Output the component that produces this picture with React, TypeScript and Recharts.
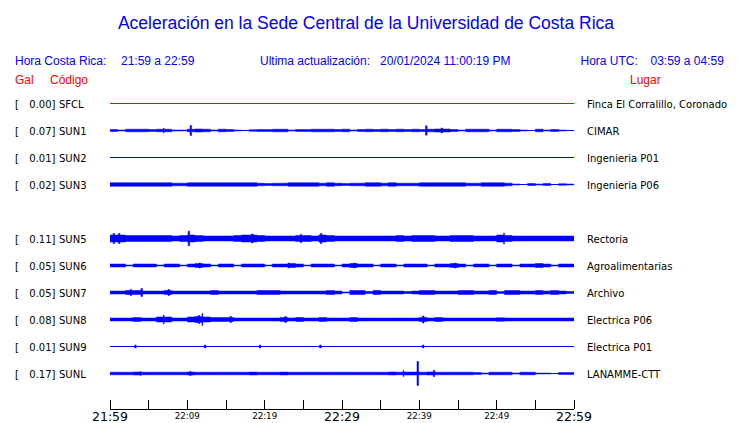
import React from "react";
import { ComposedChart, Area, XAxis, YAxis, ReferenceLine } from "recharts";

const BLUE = "#0000ff";
const RED = "#ff0000";
const SANS = "'Liberation Sans', Arial, sans-serif";
const DEJAVU = "'DejaVu Sans', sans-serif";

// stations, top to bottom (slot 4 is an empty row)
const CODES = ["SFCL", "SUN1", "SUN2", "SUN3", "SUN5", "SUN6", "SUN7", "SUN8", "SUN9", "SUNL"];
const GAL = [0.0, 0.07, 0.01, 0.02, 0.11, 0.05, 0.05, 0.08, 0.01, 0.17];
const PLACES = [
  "Finca El Corralillo, Coronado",
  "CIMAR",
  "Ingenieria P01",
  "Ingenieria P06",
  "Rectoria",
  "Agroalimentarias",
  "Archivo",
  "Electrica P06",
  "Electrica P01",
  "LANAMME-CTT",
];
const SLOTS = [0, 1, 2, 3, 5, 6, 7, 8, 9, 10];
const COLORS = [RED, BLUE, BLUE, BLUE, BLUE, BLUE, BLUE, BLUE, BLUE, BLUE];

// trace half-height per minute (21:59 .. 22:58), display units
const SFCL = [];
const SUN1 = [1, 0.5, 1.3, 1.3, 1.3, 1, 1.3, 1.3, 0.5, 0.5, 1.3, 1.5, 1.3, 0.5, 1.3, 1, 0.5, 0, 0.8, 1, 1, 1.3, 1.3, 0.5, 1, 1, 1.3, 1.3, 1.3, 1, 1.3, 0.5, 1, 1.3, 1, 1.3, 1, 1.3, 1, 1.3, 1, 1.3, 1.5, 1.5, 1, 0.5, 1.3, 1.3, 1.3, 0.5, 1.3, 1.3, 1, 0.5, 0, 1.3, 0.5, 1, 0.5, 0];
const SUN2 = [];
const SUN3 = [1.8, 1.8, 1.8, 1.8, 1.8, 1.8, 1.8, 1.8, 1.3, 1.3, 1.8, 1.8, 1.8, 1.8, 1.8, 1.8, 1.8, 1.8, 1.8, 1.3, 1, 1.3, 1.3, 1.8, 1.8, 1.8, 1.8, 1.3, 1.8, 1.3, 1, 1.3, 1.3, 1.8, 1.8, 1.3, 1.8, 1.3, 1.3, 1.3, 1.8, 1.8, 1.8, 1.8, 1.8, 1.8, 1.3, 1.3, 1.8, 1.8, 1.8, 1.3, 0.5, 0, 1, 0.5, 1, 0, 0.8, 0.5];
const SUN5 = [3.5, 3.5, 3, 3, 3, 3, 3, 3, 2.5, 3, 3.5, 3, 2.5, 2.5, 2.5, 2.5, 3, 3.5, 3.5, 3, 2.5, 2.5, 2.5, 2.5, 3, 3, 2.5, 3.5, 3, 2.5, 2.5, 2.5, 2.5, 2.5, 2.5, 2.5, 2.5, 3, 2.5, 3, 3, 3, 2.5, 2.5, 3, 3, 3, 2.5, 2.5, 2.5, 3.5, 3, 2.5, 2.5, 2.5, 2.5, 2.5, 2.5, 2.5, 2.5];
const SUN6 = [1.5, 1.5, 0.5, 1.5, 1.5, 1.5, 0.5, 1.5, 1.5, 0.5, 1.5, 2, 1.5, 0.5, 1.5, 1.5, 0.5, 1.5, 1.5, 1.5, 0.5, 1.5, 1.5, 2, 1.5, 0.5, 1.5, 1.5, 1.5, 0.5, 1.5, 2, 1.5, 1.5, 0.5, 1.5, 1.5, 0.5, 1.5, 1.5, 1.5, 0.5, 1.5, 1.5, 2, 1.5, 0.5, 1.5, 1.5, 0.5, 1.5, 1.5, 0.5, 1.5, 1.5, 2, 1.5, 0.5, 1.5, 1.5];
const SUN7 = [1.5, 1.5, 2, 2, 1.5, 1.5, 1.5, 2, 1.5, 1.5, 1.5, 1.5, 1.5, 2, 1.5, 1.5, 1.5, 1.5, 1.5, 2, 2, 2, 1.5, 1.5, 1.5, 1.5, 1.5, 1.5, 2, 1.5, 0.5, 2, 2, 1, 2, 1.5, 1.5, 1.5, 1, 1.5, 2, 2, 1.5, 1.5, 1.5, 2, 2, 1.5, 1.5, 2, 1, 2, 2, 1.5, 1.5, 2, 1.5, 2, 1.5, 1];
const SUN8 = [1.5, 1.5, 1.5, 2, 1.5, 1.5, 2.5, 2.5, 1.5, 1.5, 2.5, 3, 2.5, 2, 2, 2, 1.5, 1.5, 1.5, 1.5, 1.5, 1.5, 2, 1.5, 2, 1.5, 1.5, 2, 1.5, 1.5, 1.5, 2, 1.5, 1.5, 1.5, 1.5, 1.5, 1.5, 1.5, 1.5, 2, 1.5, 2, 1.5, 1.5, 1.5, 1.5, 1.5, 1.5, 1.5, 1.8, 1.5, 1.5, 1.5, 1.5, 1.5, 1.5, 1.5, 1.5, 1.5];
const SUN9 = [];
const SUNL = [1.3, 1.3, 1.3, 1.5, 1.3, 1.3, 1.3, 1.3, 1.3, 1.3, 1.5, 1.3, 1.3, 1.3, 1.3, 1.3, 1.3, 1.3, 1.5, 1.3, 1.3, 1.3, 1.5, 1.3, 1.3, 1.3, 1.3, 1.3, 1.3, 1.3, 1.3, 1.3, 1.3, 1.3, 1.3, 1.3, 1.5, 1.3, 1.5, 1.5, 1.3, 1.5, 1.3, 1.3, 1.3, 1.3, 1.3, 1, 0.5, 1.3, 1.3, 1.3, 0.5, 1.3, 1.3, 0.5, 0.5, 0, 1, 1];
const BINS = [SFCL, SUN1, SUN2, SUN3, SUN5, SUN6, SUN7, SUN8, SUN9, SUNL];

// short spikes: [minute, half-height]
const PEAKS = [
  [],
  [[6.9, 2.3], [10.35, 5], [40.8, 4.7], [42.8, 2.5]],
  [],
  [],
  [[0.4, 5], [1.1, 5], [10.1, 7.3], [18.3, 4.5], [24.6, 4], [27.2, 5], [50.9, 5.5]],
  [[11.5, 2.5], [23, 2.5], [31.5, 2.5], [44.5, 2.5]],
  [[2.6, 3], [4.0, 4], [7.5, 3]],
  [[6.9, 4.5], [11.4, 4], [11.9, 6], [15.5, 3], [22.6, 3], [40.4, 3.5]],
  [[3.2, 1.5], [12.2, 1.5], [19.3, 1.5], [27.1, 1.5], [40.4, 1.5]],
  [[3.9, 2], [10.3, 2], [37.9, 3], [39.7, 12], [41.8, 3]],
];

const TICK_MIN = [0, 5, 10, 15, 20, 25, 30, 35, 40, 45, 50, 55, 60];
const TICK_LABELS = ["21:59", "", "22:09", "", "22:19", "", "22:29", "", "22:39", "", "22:49", "", "22:59"];
const MAJOR = ["21:59", "22:29", "22:59"];

const ROW = 27;
const PEAK_W = 0.2;
const bases = SLOTS.map((s) => s * ROW);

function buildSeries(base: number, bins: number[], peaks: number[][]) {
  const amp = (t: number) => (bins.length ? bins[Math.min(Math.floor(t), 59)] : 0);
  const pts: { t: number; a: number }[] = [];
  for (let i = 0; i <= 60; i++) pts.push({ t: i, a: amp(i) });
  peaks.forEach(([t, a]) => {
    pts.push({ t, a });
    pts.push({ t: t + PEAK_W, a: amp(t + PEAK_W) });
  });
  pts.sort((p, q) => p.t - q.t);
  return pts.map((p) => ({ t: p.t, v: [base - p.a, base + p.a] }));
}

const series = CODES.map((code, i) => ({
  code,
  color: COLORS[i],
  data: BINS[i].length || PEAKS[i].length ? buildSeries(bases[i], BINS[i], PEAKS[i]) : null,
}));

const LeftTick = ({ x, y, payload }: any) => {
  const i = bases.indexOf(payload.value);
  if (i < 0) return null;
  return (
    <g fontFamily={DEJAVU} fontSize={10} fill="#000">
      <text x={x - 95} y={y + 4}>[</text>
      <text x={x - 54.5} y={y + 4} textAnchor="end">{GAL[i].toFixed(2)}]</text>
      <text x={x - 51} y={y + 4}>{CODES[i]}</text>
    </g>
  );
};

const RightTick = ({ x, y, payload }: any) => {
  const i = bases.indexOf(payload.value);
  if (i < 0) return null;
  return (
    <text x={x + 13} y={y + 4} fontFamily={DEJAVU} fontSize={10} fill="#000">
      {PLACES[i]}
    </text>
  );
};

const TimeTick = ({ x, y, payload }: any) => {
  const label = TICK_LABELS[TICK_MIN.indexOf(payload.value)];
  const major = MAJOR.includes(label);
  return (
    <g>
      <line x1={x} y1={y} x2={x} y2={y - 9} stroke="#000" shapeRendering="crispEdges" />
      {label && (
        <text
          x={x}
          y={major ? y + 12 : y + 10}
          textAnchor="middle"
          fontFamily={DEJAVU}
          fontSize={major ? 12.5 : 8.7}
          fill="#000"
        >
          {label}
        </text>
      )}
    </g>
  );
};

export default function App() {
  return (
    <div style={{ position: "absolute", left: 0, top: 0, width: 740, height: 423, background: "#fff" }}>
      <ComposedChart width={740} height={423} margin={{ top: 76, right: 0, bottom: 0, left: 0 }}>
        <XAxis
          type="number"
          dataKey="t"
          domain={[0, 60]}
          allowDataOverflow
          ticks={TICK_MIN}
          interval={0}
          height={14}
          tickSize={0}
          tickMargin={0}
          tickLine={false}
          axisLine={{ stroke: "#000", shapeRendering: "crispEdges" }}
          tick={<TimeTick />}
        />
        <YAxis
          yAxisId="l"
          type="number"
          orientation="left"
          width={110}
          domain={[-27.5, 305.5]}
          allowDataOverflow
          reversed
          ticks={bases}
          interval={0}
          tickSize={0}
          tickMargin={0}
          axisLine={false}
          tickLine={false}
          tick={<LeftTick />}
        />
        <YAxis
          yAxisId="r"
          type="number"
          orientation="right"
          width={166}
          domain={[-27.5, 305.5]}
          allowDataOverflow
          reversed
          ticks={bases}
          interval={0}
          tickSize={0}
          tickMargin={0}
          axisLine={false}
          tickLine={false}
          tick={<RightTick />}
        />
        {series.map((s, i) => (
          <ReferenceLine
            key={`base-${s.code}`}
            yAxisId="r"
            y={bases[i]}
            stroke={s.color}
            strokeWidth={1}
            shapeRendering="crispEdges"
          />
        ))}
        {series.map((s) =>
          s.data ? (
            <Area
              key={s.code}
              yAxisId="l"
              data={s.data}
              dataKey="v"
              type="stepAfter"
              fill={s.color}
              fillOpacity={1}
              stroke={s.color}
              strokeWidth={0.5}
              isAnimationActive={false}
              dot={false}
              activeDot={false}
            />
          ) : null
        )}
      </ComposedChart>
      <svg
        width={740}
        height={423}
        style={{ position: "absolute", left: 0, top: 0, pointerEvents: "none" }}
        fontFamily={SANS}
      >
        <text x={366} y={29} textAnchor="middle" fontSize={17.5} fill={BLUE}>
          Aceleración en la Sede Central de la Universidad de Costa Rica
        </text>
        <g fontSize={12} fill={BLUE}>
          <text x={15} y={65}>Hora Costa Rica:</text>
          <text x={121} y={65}>21:59 a 22:59</text>
          <text x={260} y={65}>Ultima actualización:</text>
          <text x={380} y={65}>20/01/2024 11:00:19 PM</text>
          <text x={580.5} y={65}>Hora UTC:</text>
          <text x={650.5} y={65}>03:59 a 04:59</text>
        </g>
        <g fontSize={12} fill={RED}>
          <text x={15} y={84}>Gal</text>
          <text x={50} y={84}>Código</text>
          <text x={630} y={84}>Lugar</text>
        </g>
      </svg>
    </div>
  );
}
